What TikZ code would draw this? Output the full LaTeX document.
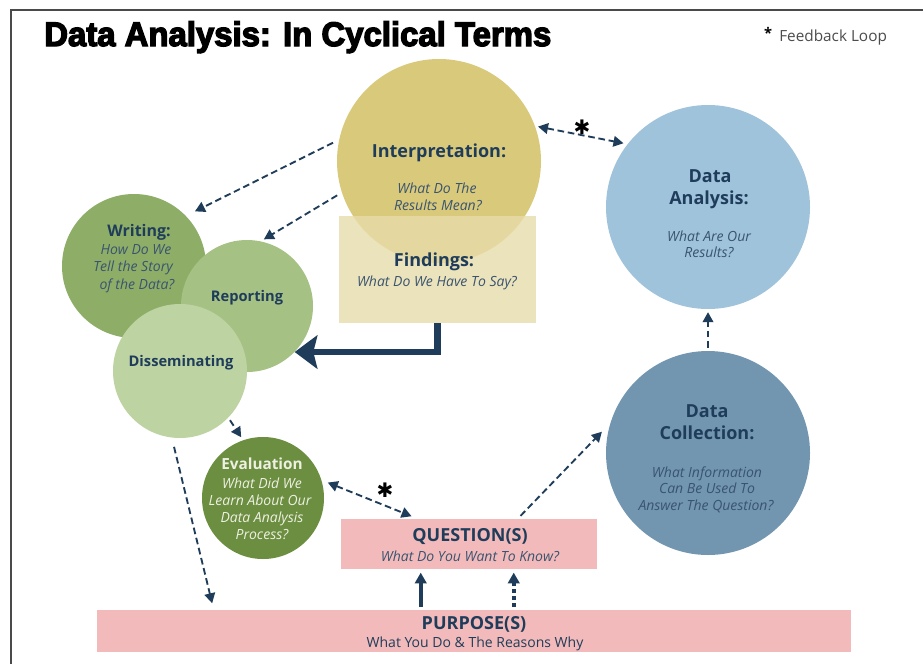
\documentclass[tikz,border=0pt]{standalone}
\usepackage{fontspec}
\setmainfont{Open Sans}
\newfontfamily\titlefont[FakeBold=4]{Liberation Sans}
\newfontfamily\symfont{DejaVu Sans}
\usetikzlibrary{arrows.meta,calc}
\definecolor{navy}{HTML}{1F3D5A}
\definecolor{navyit}{HTML}{3A5470}
\definecolor{interpcol}{HTML}{D9C97B}
\definecolor{findcol}{HTML}{E7DCAA}
\definecolor{writecol}{HTML}{8EAE68}
\definecolor{repcol}{HTML}{A6C184}
\definecolor{dissemcol}{HTML}{BDD3A2}
\definecolor{evalcol}{HTML}{6B8E40}
\definecolor{evaltext}{HTML}{EEF0E2}
\definecolor{dacol}{HTML}{A0C3DC}
\definecolor{dccol}{HTML}{7296B0}
\definecolor{pinkcol}{HTML}{F2BABA}
\definecolor{framecol}{HTML}{4A4A4A}
\begin{document}
\begin{tikzpicture}[x=0.75pt,y=-0.75pt,
  circ/.style={circle, inner sep=0pt, draw=none},
  boxx/.style={rectangle, inner sep=0pt, draw=none},
  lbl/.style={inner sep=0pt, text height=0.72em, text depth=0pt, text=navy},
  bt/.style={lbl, font=\bfseries\fontsize{#1pt}{#1pt}\selectfont},
  itx/.style={lbl, text=navyit, font=\itshape\fontsize{#1pt}{#1pt}\selectfont},
  rg/.style={lbl, font=\fontsize{#1pt}{#1pt}\selectfont},
  tipx/.style={-{Triangle[length=7.5pt,width=8pt]}},
  dasharrow/.style={navy, line width=1.4pt, dash pattern=on 5pt off 2.8pt, tipx},
  dashboth/.style={navy, line width=1.4pt, dash pattern=on 5pt off 2.8pt, {Triangle[length=7.5pt,width=8pt]}-{Triangle[length=7.5pt,width=8pt]}},
  astx/.style={inner sep=0pt, font=\symfont\fontsize{15pt}{15pt}\selectfont, text=black}
]
\useasboundingbox (0,0) rectangle (923,664);
\fill[white] (0,0) rectangle (923,664);
% frame
\coordinate (fa) at (11,664);
\coordinate (fb) at (11,10);
\coordinate (fc) at (923,10);
\draw[framecol, line width=1.8pt] (fa) -- (fb) -- (fc);

% title
\node[anchor=base west, inner sep=0pt] (title) at (44,46)
  {\resizebox{380.25pt}{18.5pt}{\titlefont\bfseries Data Analysis: In Cyclical Terms}};
\node[inner sep=0pt, font=\bfseries\fontsize{11pt}{11pt}\selectfont] (fbast) at (768,33) {*};
\node[rg=11.5, anchor=west, text=black!70] (fbtext) at (779,37) {Feedback Loop};

% shapes
\node[circ, fill=interpcol, minimum size=153pt] (interp) at (439,161) {};
\node[boxx, fill=findcol, fill opacity=0.8, minimum width=147.75pt, minimum height=80.25pt] (findings) at (437.5,269.5) {};
\node[circ, fill=dacol, minimum size=153pt] (da) at (708,207) {};
\node[circ, fill=dccol, minimum size=153pt] (dc) at (708,453) {};
\node[circ, fill=writecol, minimum size=108pt] (writing) at (134,266) {};
\node[circ, fill=repcol, minimum size=99pt] (reporting) at (247,306) {};
\node[circ, fill=dissemcol, minimum size=100.5pt] (dissem) at (180,371) {};
\node[circ, fill=evalcol, minimum size=91.5pt] (eval) at (263,498) {};
\node[boxx, fill=pinkcol, minimum width=192pt, minimum height=37.5pt] (question) at (469,544) {};
\node[boxx, fill=pinkcol, minimum width=565.5pt, minimum height=31.5pt] (purpose) at (474,631) {};

% connectors
\draw[dasharrow, shorten <=5pt, shorten >=7.5pt] (interp.168) -- (writing.44);
\draw[dasharrow, shorten <=4pt, shorten >=2.7pt] (interp.198) -- (reporting.78);
\draw[dashboth, shorten <=2.2pt, shorten >=3pt] (interp.20) -- (da.142);
\node[astx] (ast1) at (582,127) {✱};
\draw[dasharrow, shorten <=2.2pt, shorten >=2.2pt] (dc.north) -- (da.south);
\draw[dasharrow, shorten <=3pt, shorten >=9pt] ($(question.north west)+(177,0)$) -- (dc.163);
\draw[dashboth, shorten <=5pt, shorten >=5pt] (eval.17) -- ($(question.north west)+(77,0)$);
\node[astx] (ast2) at (385,490) {✱};
\draw[dasharrow, shorten <=2.2pt, shorten >=2.6pt] (dissem.-44) -- (eval.109);
\draw[dasharrow, shorten <=7pt, shorten >=5pt] (dissem.-97.5) -- ($(purpose.north west)+(117,0)$);
\draw[navy, line width=3pt, -{Triangle[length=8pt,width=8.5pt]}, shorten <=2pt, shorten >=2.5pt]
  ($(purpose.north west)+(324,0)$) -- ($(question.south west)+(80,0)$);
\draw[navy, line width=3pt, dash pattern=on 3pt off 2.2pt, -{Triangle[length=8pt,width=8.5pt]}, shorten <=2pt, shorten >=2.5pt]
  ($(purpose.north west)+(417,0)$) -- ($(question.south west)+(173,0)$);
\draw[navy, line width=5pt, line join=miter, -{Stealth[length=17pt,width=25pt,inset=3pt]}]
  (findings.south) |- (reporting.-44);

% texts
\node[bt=13.5] (t1) at (439,153) {Interpretation:};
\node[itx=10.5] (t2) at (437,189) {What Do The};
\node[itx=10.5] (t3) at (438,206) {Results Mean?};
\node[bt=13.5] (t4) at (434,262) {Findings:};
\node[itx=10.5] (t5) at (437,282) {What Do We Have To Say?};
\node[bt=13.5] (t6) at (710,178) {Data};
\node[bt=13.5] (t7) at (709,200) {Analysis:};
\node[itx=10.5] (t8) at (709,237) {What Are Our};
\node[itx=10.5] (t9) at (709,253) {Results?};
\node[bt=13.5] (t10) at (707,413) {Data};
\node[bt=13.5] (t11) at (707,435) {Collection:};
\node[itx=10.5] (t12) at (707,473) {What Information};
\node[itx=10.5] (t13) at (707,489) {Can Be Used To};
\node[itx=10.5] (t14) at (706,506) {Answer The Question?};
\node[bt=12] (t15) at (139,232) {Writing:};
\node[itx=10.5] (t16) at (136,250) {How Do We};
\node[itx=10.5] (t17) at (133,267) {Tell the Story};
\node[itx=10.5] (t18) at (137,285) {of the Data?};
\node[bt=11] (t19) at (247,297) {Reporting};
\node[bt=11] (t20) at (181,362) {Disseminating};
\node[bt=11.5, text=evaltext] (t21) at (262,465) {Evaluation};
\node[itx=10.5, text=evaltext] (t22) at (262,484) {What Did We};
\node[itx=10.5, text=evaltext] (t23) at (260,501) {Learn About Our};
\node[itx=10.5, text=evaltext] (t24) at (262,518) {Data Analysis};
\node[itx=10.5, text=evaltext] (t25) at (262,535) {Process?};
\node[bt=13.5] (t26) at (470,537) {QUESTION(S)};
\node[itx=10.5] (t27) at (470,557) {What Do You Want To Know?};
\node[bt=13.5] (t28) at (474,625) {PURPOSE(S)};
\node[rg=10.5] (t29) at (475,643) {What You Do \& The Reasons Why};
\end{tikzpicture}
\end{document}
